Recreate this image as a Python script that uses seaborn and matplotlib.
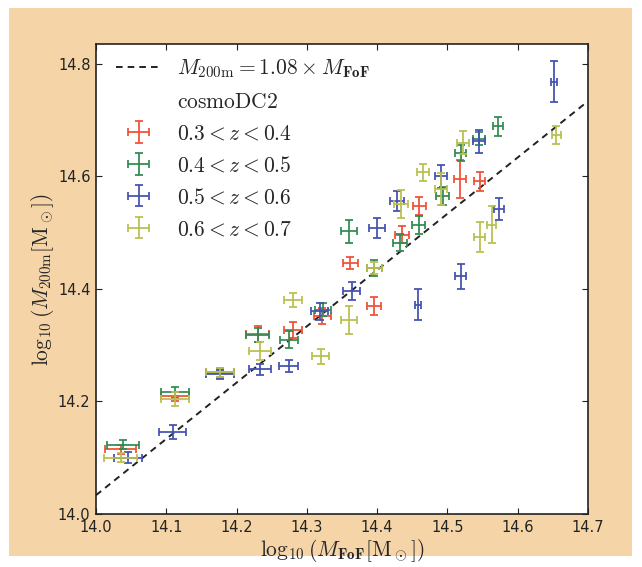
import numpy as np
import pandas as pd
import matplotlib
matplotlib.use("Agg")
import matplotlib.pyplot as plt
from matplotlib.patches import Rectangle
from matplotlib.lines import Line2D
import seaborn as sns

# Mean halo mass relation: FoF mass vs M200m, binned in FoF mass, per redshift slice
red_x = [14.035, 14.112, 14.176, 14.230, 14.280, 14.322, 14.362, 14.396, 14.436, 14.460, 14.518, 14.546]
red_y = [14.115, 14.209, 14.252, 14.320, 14.327, 14.352, 14.446, 14.369, 14.496, 14.547, 14.595, 14.591]
red_xerr = [0.022, 0.020, 0.020, 0.016, 0.013, 0.012, 0.011, 0.010, 0.010, 0.009, 0.008, 0.008]
red_yerr = [0.008, 0.008, 0.008, 0.014, 0.014, 0.014, 0.010, 0.016, 0.015, 0.016, 0.034, 0.017]

green_x = [14.038, 14.112, 14.176, 14.230, 14.275, 14.323, 14.360, 14.396, 14.432, 14.459, 14.493, 14.519, 14.545, 14.572]
green_y = [14.123, 14.216, 14.250, 14.318, 14.310, 14.363, 14.502, 14.437, 14.482, 14.514, 14.565, 14.642, 14.667, 14.689]
green_xerr = [0.023, 0.020, 0.020, 0.016, 0.013, 0.012, 0.012, 0.011, 0.010, 0.009, 0.009, 0.008, 0.008, 0.007]
green_yerr = [0.008, 0.010, 0.008, 0.012, 0.015, 0.012, 0.020, 0.014, 0.015, 0.016, 0.016, 0.014, 0.012, 0.017]

blue_x = [14.045, 14.109, 14.176, 14.233, 14.274, 14.318, 14.364, 14.400, 14.428, 14.458, 14.491, 14.519, 14.545, 14.573, 14.652]
blue_y = [14.100, 14.146, 14.248, 14.257, 14.263, 14.360, 14.396, 14.508, 14.556, 14.372, 14.600, 14.422, 14.662, 14.542, 14.768]
blue_xerr = [0.020, 0.019, 0.020, 0.016, 0.013, 0.012, 0.012, 0.011, 0.010, 0.004, 0.009, 0.008, 0.008, 0.007, 0.004]
blue_yerr = [0.010, 0.013, 0.008, 0.010, 0.010, 0.015, 0.016, 0.018, 0.018, 0.027, 0.020, 0.022, 0.020, 0.020, 0.036]

yellow_x = [14.035, 14.112, 14.176, 14.233, 14.280, 14.320, 14.360, 14.396, 14.434, 14.465, 14.491, 14.522, 14.546, 14.563, 14.655]
yellow_y = [14.100, 14.204, 14.252, 14.290, 14.380, 14.280, 14.345, 14.437, 14.550, 14.607, 14.577, 14.660, 14.492, 14.514, 14.674]
yellow_xerr = [0.023, 0.020, 0.020, 0.016, 0.013, 0.012, 0.012, 0.011, 0.010, 0.009, 0.009, 0.008, 0.008, 0.006, 0.006]
yellow_yerr = [0.008, 0.012, 0.008, 0.016, 0.012, 0.014, 0.025, 0.010, 0.025, 0.015, 0.028, 0.020, 0.027, 0.033, 0.016]

z_labels = [r"$0.3 < z < 0.4$", r"$0.4 < z < 0.5$", r"$0.5 < z < 0.6$", r"$0.6 < z < 0.7$"]
series_colors = ["#EE5033", "#2F8C52", "#4352B0", "#B9C04E"]

ratio = 1.08
fit_x = [14.0, 14.7]
x_ticks = [14.0, 14.1, 14.2, 14.3, 14.4, 14.5, 14.6, 14.7]
y_ticks = [14.0, 14.2, 14.4, 14.6, 14.8]

sns.set_style("ticks")
plt.rcParams["font.family"] = ["DejaVu Sans"]
plt.rcParams["mathtext.fontset"] = "cm"

W, H = 642, 567
fig = plt.figure(figsize=(W / 100, H / 100), dpi=100, facecolor="white")
fig.patches.append(Rectangle((9 / W, 1 - 556 / H), (632 - 9) / W, (556 - 8) / H,
                             transform=fig.transFigure, facecolor="#F5D5A8",
                             edgecolor="none", zorder=-10))
ax = fig.add_axes([96 / W, 1 - 514 / H, (588 - 96) / W, (514 - 44) / H])
ax.set_facecolor("white")

# one-to-one relation scaled by the fitted ratio
dash = (0, (3.4, 2.6))
fit_df = pd.DataFrame({"x": fit_x, "y": np.array(fit_x) + np.log10(ratio)})
sns.lineplot(data=fit_df, x="x", y="y", ax=ax, color="#222222", lw=1.4,
             linestyle=dash, legend=False)
fit_handle = Line2D([], [], color="#222222", lw=1.4, linestyle=dash)

series = [
    (red_x, red_y, red_xerr, red_yerr),
    (green_x, green_y, green_xerr, green_yerr),
    (blue_x, blue_y, blue_xerr, blue_yerr),
    (yellow_x, yellow_y, yellow_xerr, yellow_yerr),
]
handles = []
for (sx, sy, sxe, sye), col, lab in zip(series, series_colors, z_labels):
    h = ax.errorbar(sx, sy, xerr=sxe, yerr=sye, fmt="none", ecolor=col,
                    elinewidth=1.4, capsize=2.8, capthick=1.4, alpha=0.9, label=lab)
    handles.append(h)

blank = Line2D([], [], linestyle="none")
ax.legend([fit_handle, blank] + handles,
          [r"$M_{\rm 200m} = 1.08\times M_{\mathbf{FoF}}$", r"$\mathrm{cosmoDC2}$"] + z_labels,
          loc="upper left", bbox_to_anchor=(0.01, 1.004), frameon=False, fontsize=15.5,
          handlelength=2.1, handletextpad=0.75, labelspacing=0.55,
          borderaxespad=0.3, borderpad=0.4)

ax.set_xlim(14.0, 14.7)
ax.set_ylim(14.0, 14.835)
ax.set_xticks(x_ticks)
ax.set_yticks(y_ticks)
ax.set_xticklabels([f"{t:.1f}" for t in x_ticks])
ax.set_yticklabels([f"{t:.1f}" for t in y_ticks])
ax.tick_params(direction="in", top=True, right=True, length=4, width=0.8,
               labelsize=10.5, colors="#222222", labelcolor="#222222")
ax.tick_params(axis="x", pad=4.5)
ax.tick_params(axis="y", pad=4)
for sp in ax.spines.values():
    sp.set_visible(True)
    sp.set_color("#222222")
    sp.set_linewidth(1.2)

ax.set_xlabel(r"$\log_{10}(M_{\mathbf{FoF}}[\mathrm{M}_\odot])$", fontsize=15.5, labelpad=1)
ax.set_ylabel(r"$\log_{10}(M_{\rm 200m}[\mathrm{M}_\odot])$", fontsize=15.5, labelpad=1)

fig.savefig("out.png", dpi=100, facecolor=fig.get_facecolor())
